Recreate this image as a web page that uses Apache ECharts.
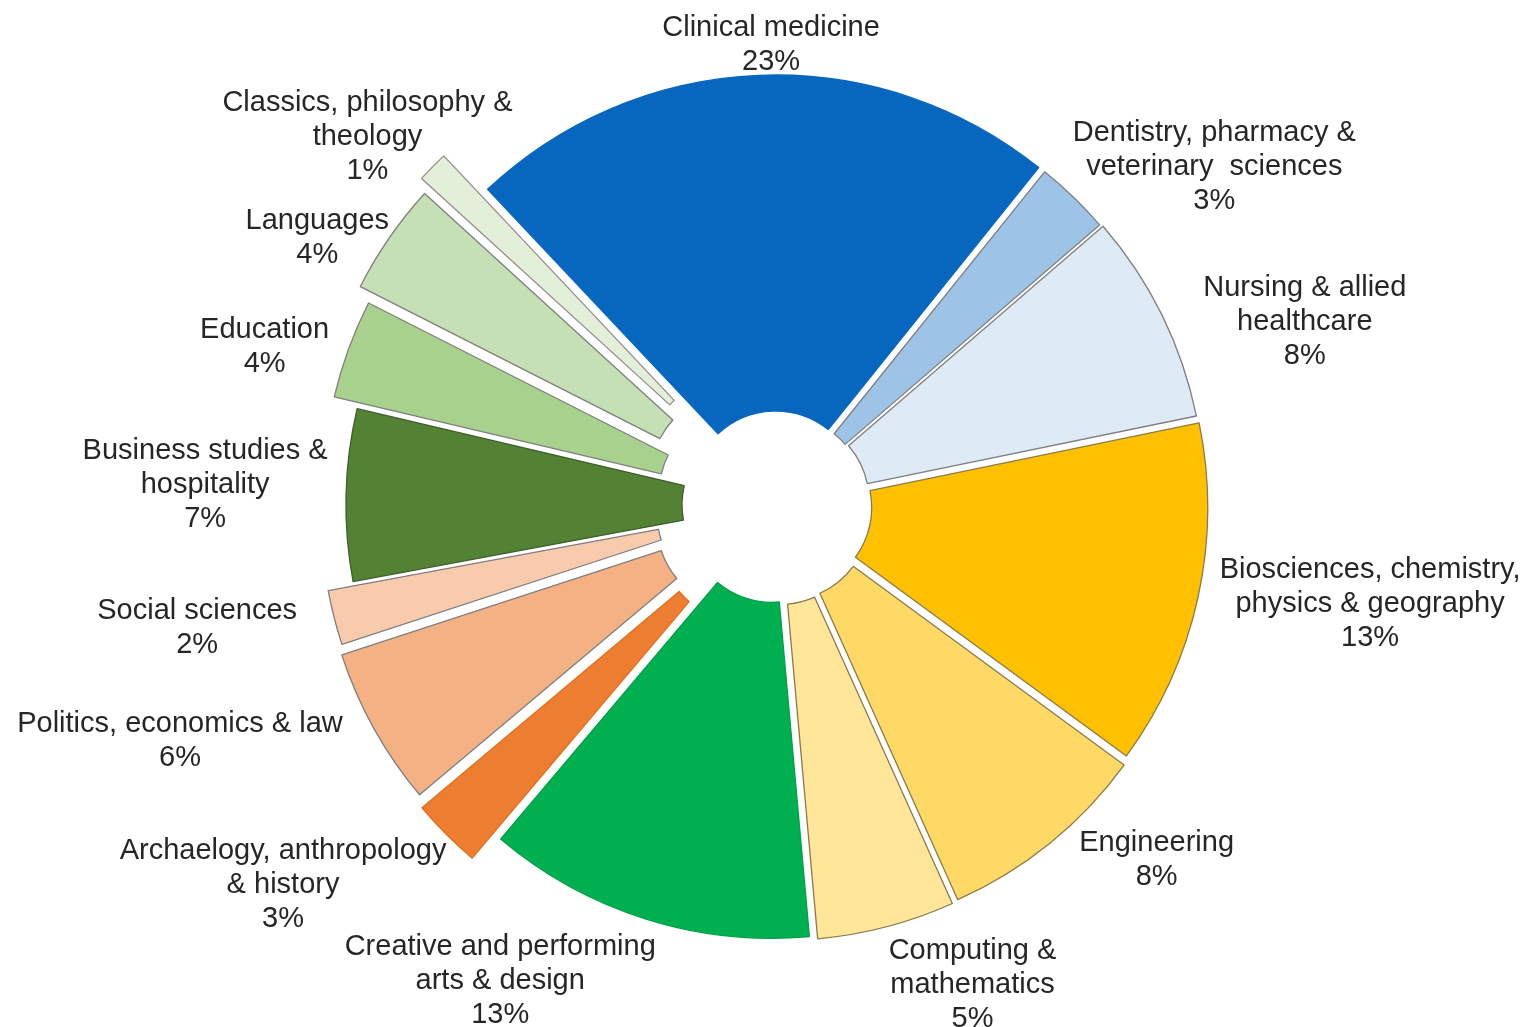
<!DOCTYPE html>
<html>
<head>
<meta charset="utf-8">
<script src="https://cdn.jsdelivr.net/npm/echarts@6/dist/echarts.min.js"></script>
<style>
html,body{margin:0;padding:0;background:#ffffff;}
#chart{width:1526px;height:1027px;}
</style>
</head>
<body>
<div id="chart"></div>
<script>
// ---- data ----
const categories = [
  'Clinical medicine',
  'Dentistry, pharmacy &\nveterinary  sciences',
  'Nursing & allied\nhealthcare',
  'Biosciences, chemistry,\nphysics & geography',
  'Engineering',
  'Computing &\nmathematics',
  'Creative and performing\narts & design',
  'Archaelogy, anthropology\n& history',
  'Politics, economics & law',
  'Social sciences',
  'Business studies &\nhospitality',
  'Education',
  'Languages',
  'Classics, philosophy &\ntheology'
];
// shares (%); labels show them rounded
const shares = [22.8, 2.9, 8.1, 13.3, 8.2, 5.3, 12.6, 2.7, 6.1, 2.1, 6.6, 3.8, 4.3, 1.2];

// ---- styles ----
const colors = ['#0767BF', '#9DC3E6', '#DEEBF7', '#FFC000', '#FFD966', '#FFE699', '#00B050',
                '#ED7D31', '#F4B183', '#F8CBAD', '#548235', '#A9D18E', '#C5E0B4', '#E2F0D9'];
const borderColors = ['#0767BF', '#7F7F7F', '#7F7F7F', '#8a7a4a', '#8a7a4a', '#8a7a4a', '#00A048',
                      '#E07020', '#7F7F7F', '#7F7F7F', '#3E5F28', '#7F7F7F', '#7F7F7F', '#9a8a8a'];
const explode = [10, 8, 10, 12, 15, 16, 14, 46, 40, 36, 10, 35, 50, 62];
// label nudges relative to the library's outside-label anchor
const labelDX = [17, 136, 138, 167, 102, 81, -140, -158, -189, -132, -136, -79, -67, -60];
const labelDY = [-30, -30, 7, 7, 17, 58, 62, 51, 12, 10, -10, -2, 0, -30];
const CENTER = [776, 505];
const RADIUS = [84, 420];
const TEXT = {fontSize: 29, lineHeight: 34, color: '#262626',
              fontFamily: '"Liberation Sans", Arial, sans-serif', align: 'center'};

const chart = echarts.init(document.getElementById('chart'), null, {renderer: 'canvas'});

const series = categories.map(function (_, i) {
  const dy = labelDY[i];
  const sp = Math.max(1, Math.abs(2 * dy));
  return {
    type: 'pie',
    silent: true,
    animation: false,
    center: CENTER,
    radius: RADIUS,
    startAngle: 133.3,
    clockwise: true,
    selectedMode: 'multiple',
    selectedOffset: explode[i],
    avoidLabelOverlap: false,
    label: {
      show: true,
      position: 'outside',
      formatter: function (p) {
        let s = p.name.split('\n').map(function (l) { return '{t|' + l + '}'; }).join('\n') +
                '\n{t|' + Math.round(p.value) + '%}';
        if (dy > 0) s = '{sp| }\n' + s;
        else if (dy < 0) s = s + '\n{sp| }';
        return s;
      },
      rich: {
        t: TEXT,
        sp: {fontSize: 1, lineHeight: sp, height: sp}
      },
      color: '#262626',
      bleedMargin: 0,
      overflow: 'none',
      padding: [0, Math.max(0, -2 * labelDX[i]), 0, Math.max(0, 2 * labelDX[i])]
    },
    labelLine: {show: false, length: 0, length2: 0},
    labelLayout: function () {
      return {align: 'center', verticalAlign: 'middle'};
    },
    data: categories.map(function (name, j) {
      if (j === i) {
        return {
          name: name,
          value: shares[j],
          selected: true,
          itemStyle: {
            color: colors[j],
            borderColor: borderColors[j],
            borderWidth: 1.3
          }
        };
      }
      return {
        name: name,
        value: shares[j],
        itemStyle: {color: 'rgba(0,0,0,0)', borderWidth: 0},
        label: {show: false}
      };
    })
  };
});

chart.setOption({
  animation: false,
  backgroundColor: '#ffffff',
  series: series
});
</script>
</body>
</html>
